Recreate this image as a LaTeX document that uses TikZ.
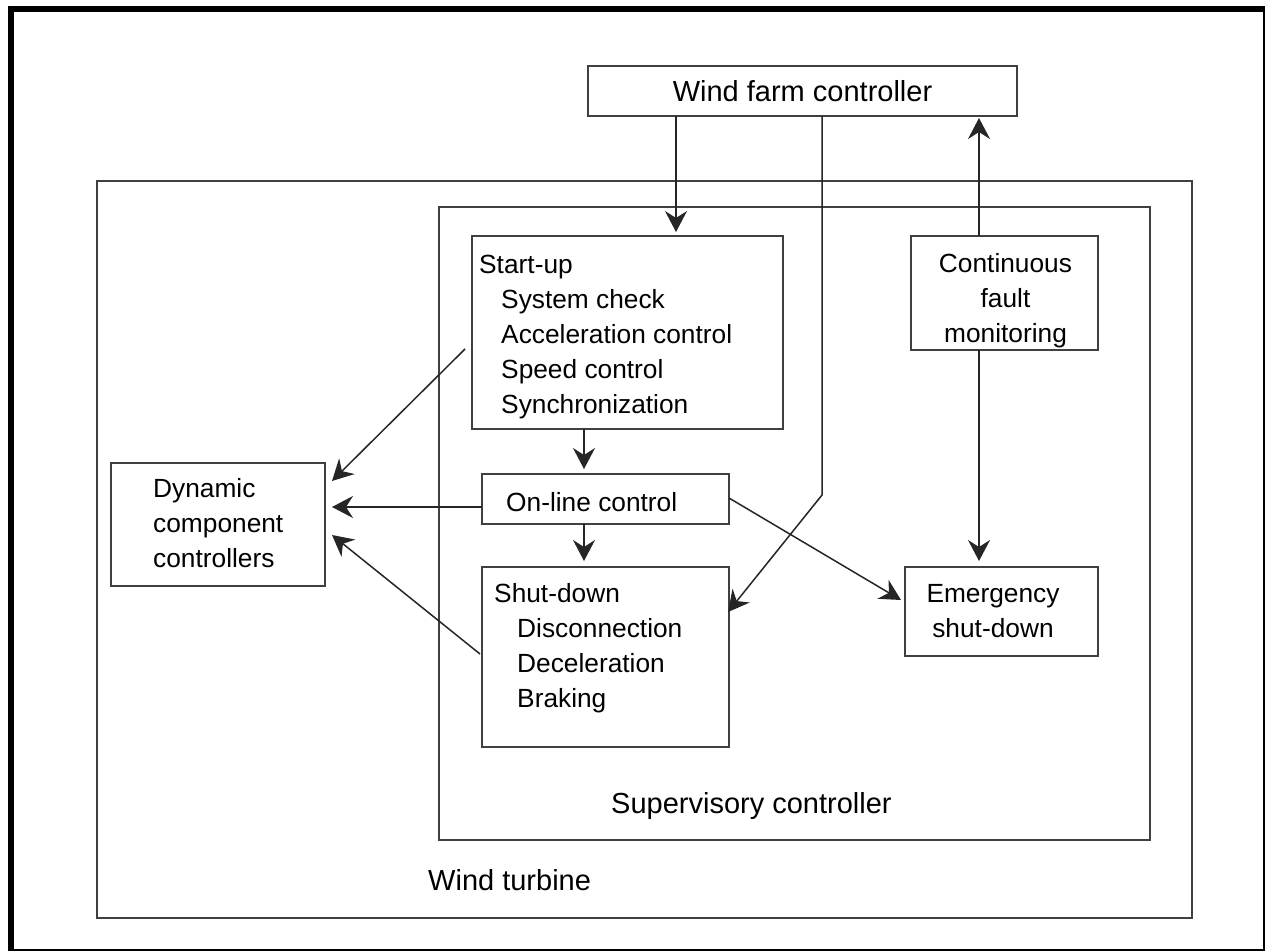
\documentclass[tikz,border=0pt]{standalone}
\usepackage{fontspec}
\setmainfont{Liberation Sans}
\usetikzlibrary{arrows.meta}
\begin{document}
\begin{tikzpicture}[x=1pt,y=-1pt,
  box/.style={draw=black!75,line width=1.5pt,rectangle,inner sep=0pt,outer sep=0pt},
  txt/.style={inner sep=0pt,font=\fontsize{26.3}{35}\selectfont},
  lbl/.style={inner sep=0pt,font=\fontsize{29}{35}\selectfont},
  arr/.style={draw=black!85,line width=1.5pt,-{Stealth[length=21pt,width=22pt,inset=7pt]}}]
\useasboundingbox (0,0) rectangle (1265,950);
\fill[white] (0,0) rectangle (1265,950);
% frame
\draw[line width=6pt] (11,9.5) rectangle (1266,952);
% containers
\node[box,minimum width=1095pt,minimum height=737pt] (wt) at (644.5,549.5) {};
\node[box,minimum width=711pt,minimum height=633pt] (sc) at (794.5,523.5) {};
% boxes
\node[box,minimum width=429pt,minimum height=50pt] (wf) at (802.5,91) {};
\node[box,minimum width=311pt,minimum height=193pt] (su) at (627.5,332.5) {};
\node[box,minimum width=247pt,minimum height=50pt] (ol) at (605.5,499) {};
\node[box,minimum width=247pt,minimum height=180pt] (sd) at (605.5,657) {};
\node[box,minimum width=214pt,minimum height=123pt] (dc) at (218,524.5) {};
\node[box,minimum width=187pt,minimum height=114pt] (cf) at (1004.5,293) {};
\node[box,minimum width=193pt,minimum height=89pt] (es) at (1001.5,611.5) {};
% texts
\node[lbl,anchor=base] (wft) at (802.5,101) {Wind farm controller};
\node[lbl,anchor=base west] (sct) at (611,813) {Supervisory controller};
\node[lbl,anchor=base west] (wtt) at (428,890) {Wind turbine};
\node[txt,anchor=base west] (sut) at (479,273) {\begin{tabular}[t]{@{}l@{}}Start-up\\\hspace*{22pt}System check\\\hspace*{22pt}Acceleration control\\\hspace*{22pt}Speed control\\\hspace*{22pt}Synchronization\end{tabular}};
\node[txt,anchor=base west] (olt) at (506,511) {On-line control};
\node[txt,anchor=base west] (sdt) at (494,602) {\begin{tabular}[t]{@{}l@{}}Shut-down\\\hspace*{23pt}Disconnection\\\hspace*{23pt}Deceleration\\\hspace*{23pt}Braking\end{tabular}};
\node[txt,anchor=base west] (dct) at (153,497) {\begin{tabular}[t]{@{}l@{}}Dynamic\\component\\controllers\end{tabular}};
\node[txt,anchor=base] (cft) at (1005.5,272) {\begin{tabular}[t]{@{}c@{}}Continuous\\fault\\monitoring\end{tabular}};
\node[txt,anchor=base] (est) at (993,602) {\begin{tabular}[t]{@{}c@{}}Emergency\\shut-down\end{tabular}};
% connectors
\coordinate (bend) at (822,495);
\draw[arr,shorten >=4pt] ([xshift=48.5pt]su.north |- wf.south) -- ([xshift=48.5pt]su.north);
\draw[arr] ([xshift=19.5pt]wf.south) -- (bend) -- ([xshift=-1pt,yshift=45pt]sd.east);
\draw[arr,shorten >=2pt] ([xshift=-25.5pt]cf.north) -- ([xshift=-25.5pt]cf.north |- wf.south);
\draw[arr,shorten >=6pt] ([xshift=-25.5pt]cf.south) -- ([xshift=-25.5pt]cf.south |- es.north);
\draw[arr,shorten >=5pt] ([xshift=-43.5pt]su.south) -- ([xshift=-43.5pt]su.south |- ol.north);
\draw[arr,shorten >=6pt] ([xshift=-21.5pt]ol.south) -- ([xshift=-21.5pt]ol.south |- sd.north);
\draw[arr] ([xshift=-7pt,yshift=-16.5pt]su.west) -- ([xshift=7pt,yshift=43.5pt]dc.east);
\draw[arr,shorten >=7pt] ([yshift=-8pt]ol.west) -- ([yshift=-8pt]ol.west -| dc.east);
\draw[arr] ([xshift=-2pt,yshift=3pt]sd.west) -- ([xshift=7pt,yshift=-10.5pt]dc.east);
\draw[arr] ([yshift=1pt]ol.east) -- ([xshift=-4pt,yshift=11.5pt]es.west);
\end{tikzpicture}
\end{document}
